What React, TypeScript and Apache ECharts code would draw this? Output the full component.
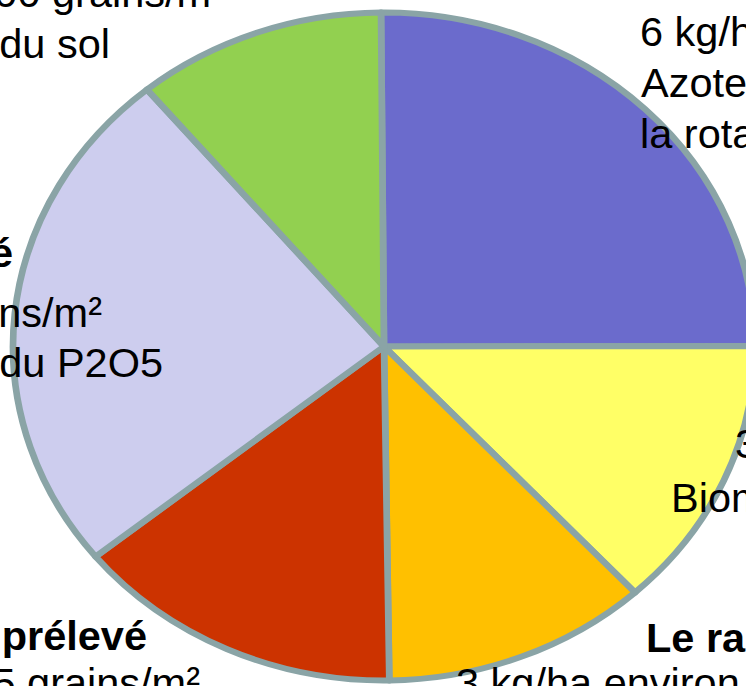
import React, { useEffect, useRef } from 'react';
import * as echarts from 'echarts';

// ---- data ----
const sliceNames = ['Azote', 'Biomasse', 'Le rang', 'Grains prélevés', 'P2O5 prélevé', 'Sol'];
const sliceValues = [25.1, 13.2, 11.6, 14.4, 24.8, 10.9];
const sliceColors = ['#6b6bcc', '#ffff66', '#ffc000', '#cc3300', '#cdcdee', '#92d050'];

const labelLines = [
  '500 grains/m²',
  'du sol',
  'prélevé',
  'grains/m²',
  'du P2O5',
  'prélevé',
  '5 grains/m²',
  '6 kg/ha',
  'Azote',
  'la rotation',
  '3 kg/ha',
  'Biomasse',
  'Le rang',
  '3 kg/ha environ',
];
const boldLines = [false, false, true, false, false, true, false, false, false, false, false, false, true, false];

// ---- layout (not data) ----
const W = 746;
const H = 686;
const CX = 384;
const CY = 346.5;
const R = 334;
const SCALE_X = 371 / 334;
const FONT = 41.5;
// [x, baseline, align] for each label line
const labelLayout: [number, number, 'left' | 'right'][] = [
  [225, 7, 'right'],
  [110, 58, 'right'],
  [13, 267, 'right'],
  [102, 327, 'right'],
  [163, 377, 'right'],
  [147, 650, 'right'],
  [200, 697, 'right'],
  [640, 46, 'left'],
  [641, 97, 'left'],
  [640, 148, 'left'],
  [735, 458, 'left'],
  [671, 512, 'left'],
  [646, 652, 'left'],
  [456, 697, 'left'],
];

export default function App() {
  const pieRef = useRef<HTMLDivElement>(null);
  const textRef = useRef<HTMLDivElement>(null);

  useEffect(() => {
    if (!pieRef.current || !textRef.current) return;
    const pie = echarts.init(pieRef.current, null, { renderer: 'svg' });
    pie.setOption({
      animation: false,
      series: [
        {
          type: 'pie',
          center: [CX, CY],
          radius: R,
          startAngle: 90.46,
          clockwise: true,
          label: { show: false },
          labelLine: { show: false },
          emphasis: { disabled: true },
          itemStyle: { borderColor: '#8aa4a6', borderWidth: 6 },
          data: sliceValues.map((v, i) => ({
            name: sliceNames[i],
            value: v,
            itemStyle: { color: sliceColors[i] },
          })),
        },
      ],
    });

    const txt = echarts.init(textRef.current, null, { renderer: 'svg' });
    txt.setOption({
      animation: false,
      graphic: labelLines.map((t, i) => {
        const [x, base, align] = labelLayout[i];
        return {
          type: 'text',
          x,
          y: base - FONT * 0.3465,
          silent: true,
          style: {
            text: t,
            fill: '#000',
            font: `${boldLines[i] ? 'bold ' : ''}${FONT}px "Liberation Sans", Arial, sans-serif`,
            textAlign: align,
            textVerticalAlign: 'middle',
          },
        };
      }),
    });

    return () => {
      pie.dispose();
      txt.dispose();
    };
  }, []);

  return (
    <div
      style={{
        position: 'absolute',
        left: 0,
        top: 0,
        width: W,
        height: H,
        overflow: 'hidden',
        background: '#fff',
      }}
    >
      <div
        ref={pieRef}
        style={{
          position: 'absolute',
          left: 0,
          top: 0,
          width: W,
          height: H,
          transform: `scaleX(${SCALE_X})`,
          transformOrigin: `${CX}px ${CY}px`,
        }}
      />
      <div ref={textRef} style={{ position: 'absolute', left: 0, top: 0, width: W, height: H }} />
    </div>
  );
}
